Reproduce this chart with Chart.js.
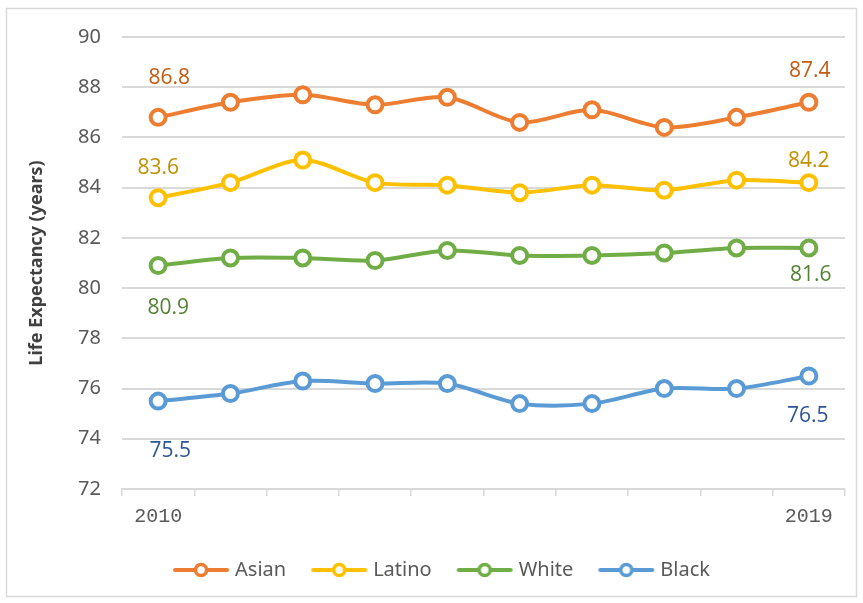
<!DOCTYPE html>
<html>
<head>
<meta charset="utf-8">
<script src="https://cdn.jsdelivr.net/npm/chart.js@4.4.1/dist/chart.umd.min.js"></script>
<style>
  html, body { margin: 0; padding: 0; background: #fff; }
  #wrap { position: relative; width: 863px; height: 603px; }
</style>
</head>
<body>
<div id="wrap"><canvas id="chart"></canvas></div>
<script>
const years = ['2010', '2011', '2012', '2013', '2014', '2015', '2016', '2017', '2018', '2019'];
const asian = [86.8, 87.4, 87.7, 87.3, 87.6, 86.6, 87.1, 86.4, 86.8, 87.4];
const latino = [83.6, 84.2, 85.1, 84.2, 84.1, 83.8, 84.1, 83.9, 84.3, 84.2];
const white = [80.9, 81.2, 81.2, 81.1, 81.5, 81.3, 81.3, 81.4, 81.6, 81.6];
const black = [75.5, 75.8, 76.3, 76.2, 76.2, 75.4, 75.4, 76.0, 76.0, 76.5];
const yTicks = [72, 74, 76, 78, 80, 82, 84, 86, 88, 90];

// line colour, value-label colour, label offsets [first, last] as [dx, dy]
const styles = {
    Asian:  { line: '#ED7D31', text: '#C55A11', offsets: [[11, -39], [1, -31]] },
    Latino: { line: '#FFC000', text: '#BF9000', offsets: [[0, -30], [0, -22]] },
    White:  { line: '#70AD47', text: '#548235', offsets: [[10, 43], [2, 27]] },
    Black:  { line: '#5B9BD5', text: '#2F5597', offsets: [[12, 50], [-1, 40]] },
};

// small line-with-circle swatch for the legend
function swatch(color) {
    const c = document.createElement('canvas');
    c.width = 60; c.height = 18;
    const g = c.getContext('2d');
    g.strokeStyle = color;
    g.lineWidth = 4;
    g.lineCap = 'round';
    g.beginPath(); g.moveTo(4, 9); g.lineTo(56, 9); g.stroke();
    g.fillStyle = '#fff';
    g.lineWidth = 3.5;
    g.beginPath(); g.arc(30, 9, 5.5, 0, Math.PI * 2); g.fill(); g.stroke();
    return c;
}

function series(label, values) {
    const s = styles[label];
    return {
        label: label,
        data: values,
        borderColor: s.line,
        backgroundColor: '#fff',
        borderWidth: 4,
        tension: 0.3,
        pointRadius: 7.5,
        pointBorderWidth: 4,
        pointBackgroundColor: '#fff',
        pointBorderColor: s.line,
        pointStyle: 'circle',
    };
}

const frame = {
    id: 'frame',
    beforeDraw(chart) {
        const ctx = chart.ctx;
        ctx.save();
        ctx.fillStyle = '#fff';
        ctx.fillRect(0, 0, chart.width, chart.height);
        ctx.strokeStyle = '#d9d9d9';
        ctx.lineWidth = 1.5;
        ctx.strokeRect(6.5, 8.5, 850, 588);
        ctx.restore();
    }
};

const endLabels = {
    id: 'endLabels',
    afterDatasetsDraw(chart) {
        const ctx = chart.ctx;
        ctx.save();
        ctx.font = '21px "Open Sans", sans-serif';
        ctx.textAlign = 'center';
        ctx.textBaseline = 'middle';
        chart.data.datasets.forEach((ds, i) => {
            const s = styles[ds.label];
            const pts = chart.getDatasetMeta(i).data;
            [0, pts.length - 1].forEach((idx, k) => {
                const p = pts[idx];
                const off = s.offsets[k];
                ctx.fillStyle = s.text;
                ctx.fillText(ds.data[idx].toFixed(1), p.x + off[0], p.y + off[1]);
            });
        });
        ctx.restore();
    }
};

new Chart(document.getElementById('chart'), {
    type: 'line',
    data: {
        labels: years,
        datasets: [
            series('Asian', asian),
            series('Latino', latino),
            series('White', white),
            series('Black', black),
        ],
    },
    options: {
        responsive: true,
        maintainAspectRatio: false,
        animation: false,
        layout: { padding: { left: 42, right: 18, top: 37, bottom: 13 } },
        scales: {
            x: {
                offset: true,
                grid: { offset: true, drawOnChartArea: false, drawTicks: true, tickLength: 7, color: '#d9d9d9', lineWidth: 1.5 },
                border: { color: '#d9d9d9', width: 2 },
                ticks: {
                    autoSkip: false,
                    maxRotation: 0,
                    padding: 9,
                    color: '#595959',
                    font: { family: '"Liberation Mono", monospace', size: 20 },
                    callback: (v, i) => (i === 0 || i === years.length - 1) ? years[i] : '',
                },
                afterFit: s => { s.height = 42; },
            },
            y: {
                min: 72,
                max: 90,
                afterBuildTicks: s => { s.ticks = yTicks.map(v => ({ value: v })); },
                grid: { color: '#d9d9d9', lineWidth: 2, drawTicks: false },
                border: { display: false },
                ticks: {
                    padding: 21,
                    color: '#595959',
                    font: { family: '"Noto Sans", sans-serif', size: 20 },
                },
                title: {
                    display: true,
                    text: 'Life Expectancy (years)',
                    color: '#404040',
                    padding: { top: -16, bottom: 0 },
                    font: { family: '"Noto Sans", sans-serif', size: 18, weight: 'bold' },
                },
                afterFit: s => { s.width = 80; },
            },
        },
        plugins: {
            legend: {
                position: 'bottom',
                labels: {
                    usePointStyle: true,
                    pointStyleWidth: 48,
                    boxHeight: 18,
                    padding: 29,
                    color: '#595959',
                    font: { family: '"Noto Sans", sans-serif', size: 20 },
                    generateLabels: chart => chart.data.datasets.map((ds, i) => ({
                        text: ds.label,
                        pointStyle: swatch(ds.borderColor),
                        fillStyle: ds.borderColor,
                        strokeStyle: ds.borderColor,
                        lineWidth: 0,
                        fontColor: '#595959',
                        hidden: false,
                        datasetIndex: i,
                    })),
                },
            },
            tooltip: { enabled: false },
        },
    },
    plugins: [frame, endLabels],
});
</script>
</body>
</html>
